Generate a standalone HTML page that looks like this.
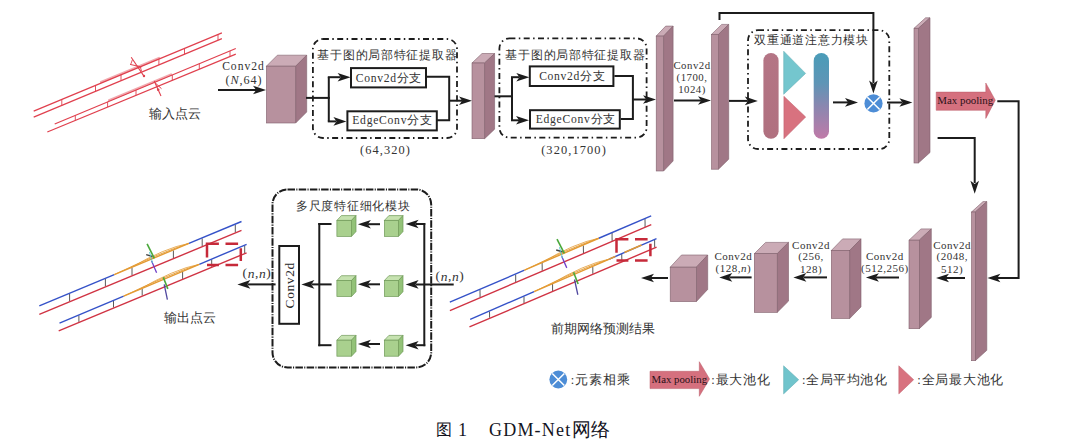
<!DOCTYPE html>
<html><head><meta charset="utf-8"><style>
html,body{margin:0;padding:0;background:#fff;}
body{width:1083px;height:445px;overflow:hidden;font-family:"Liberation Serif", serif;}
svg{display:block;}
</style></head><body>
<svg width="1083" height="445" viewBox="0 0 1083 445">
<rect width="1083" height="445" fill="#fff"/>
<line x1="33.7" y1="111.1" x2="221.9" y2="32.9" stroke="#e0404e" stroke-width="1.2" />
<line x1="33.7" y1="117.1" x2="221.9" y2="38.6" stroke="#e0404e" stroke-width="1.2" />
<line x1="54.7" y1="124.0" x2="235.8" y2="48.5" stroke="#e0404e" stroke-width="1.2" />
<line x1="47.3" y1="132.0" x2="235.8" y2="54.1" stroke="#e0404e" stroke-width="1.2" />
<line x1="61.8" y1="99.4" x2="61.8" y2="105.4" stroke="#e0404e" stroke-width="0.9" />
<line x1="95.5" y1="85.4" x2="95.5" y2="91.3" stroke="#e0404e" stroke-width="0.9" />
<line x1="121.0" y1="74.8" x2="121.0" y2="80.7" stroke="#e0404e" stroke-width="0.9" />
<line x1="158.9" y1="59.1" x2="158.9" y2="64.9" stroke="#e0404e" stroke-width="0.9" />
<line x1="184.5" y1="48.4" x2="184.5" y2="54.2" stroke="#e0404e" stroke-width="0.9" />
<line x1="218.0" y1="34.5" x2="218.0" y2="40.2" stroke="#e0404e" stroke-width="0.9" />
<line x1="75.3" y1="115.4" x2="75.3" y2="120.4" stroke="#e0404e" stroke-width="0.9" />
<line x1="107.6" y1="101.9" x2="107.6" y2="107.1" stroke="#e0404e" stroke-width="0.9" />
<line x1="136.0" y1="90.1" x2="136.0" y2="95.3" stroke="#e0404e" stroke-width="0.9" />
<line x1="172.3" y1="75.0" x2="172.3" y2="80.3" stroke="#e0404e" stroke-width="0.9" />
<line x1="199.3" y1="63.7" x2="199.3" y2="69.2" stroke="#e0404e" stroke-width="0.9" />
<line x1="230.0" y1="50.9" x2="230.0" y2="56.5" stroke="#e0404e" stroke-width="0.9" />
<path d="M101.0,82.0 L159.0,57.9" stroke="#e0404e" stroke-width="2.2" stroke-opacity="0.45" fill="none" stroke-linecap="round"/>
<path d="M109.0,100.3 L171.0,74.4" stroke="#e0404e" stroke-width="2.2" stroke-opacity="0.45" fill="none" stroke-linecap="round"/>
<line x1="131.2" y1="57.3" x2="144.1" y2="76.4" stroke="#e0404e" stroke-width="1.1" />
<line x1="130.1" y1="64.4" x2="141.5" y2="67.0" stroke="#e0404e" stroke-width="1.0" />
<line x1="132.5" y1="59.5" x2="130.6" y2="64.6" stroke="#e0404e" stroke-width="0.9" />
<line x1="140.0" y1="66.0" x2="141.5" y2="71.0" stroke="#e0404e" stroke-width="0.9" />
<circle cx="144" cy="76" r="1.2" fill="#e0404e"/>
<line x1="154.2" y1="80.9" x2="161.0" y2="96.0" stroke="#e0404e" stroke-width="1.1" />
<line x1="154.8" y1="82.5" x2="161.5" y2="88.7" stroke="#e0404e" stroke-width="1.0" />
<circle cx="158.2" cy="89.8" r="1.3" fill="#e0404e"/>
<text x="174.5" y="114" font-size="12.8" text-anchor="middle" font-family="'Liberation Serif', serif" fill="#333" dominant-baseline="central" >输入点云</text>
<text x="243.5" y="66.8" font-size="11.6" text-anchor="middle" font-family="'Liberation Serif', serif" fill="#333" dominant-baseline="central" letter-spacing="1.0">Conv2d</text>
<text x="244" y="80.3" font-size="12.2" text-anchor="middle" font-family="'Liberation Serif', serif" fill="#333" dominant-baseline="central" letter-spacing="0.9">(<tspan font-style="italic">N</tspan>,64)</text>
<line x1="218" y1="90" x2="256" y2="90" stroke="#1c1c1c" stroke-width="2" />
<polygon points="266.00,90.00 253.00,85.70 256.20,90.00 253.00,94.30" fill="#1c1c1c"/>
<polygon points="266.4,66.2 277.4,55.2 306.7,55.2 295.7,66.2" fill="#cbabb6" stroke="#80606c" stroke-width="0.6"/>
<polygon points="295.7,66.2 306.7,55.2 306.7,112 295.7,123" fill="#a07786" stroke="#80606c" stroke-width="0.6"/>
<rect x="266.4" y="66.2" width="29.30000000000001" height="56.8" fill="#b7919e" stroke="#80606c" stroke-width="0.6"/>
<rect x="312.9" y="39" width="144.10000000000002" height="99" rx="10" ry="10" fill="none" stroke="#1c1c1c" stroke-width="1.8" stroke-dasharray="6 3.4 1.5 3.4"/>
<text x="317.3" y="55" font-size="12" text-anchor="start" font-family="'Liberation Serif', serif" fill="#333" dominant-baseline="central" letter-spacing="0.74">基于图的局部特征提取器</text>
<line x1="306" y1="97.9" x2="329.8" y2="97.9" stroke="#1c1c1c" stroke-width="2" />
<polyline points="328.8,121.4 328.8,77.2" fill="none" stroke="#1c1c1c" stroke-width="2" stroke-linejoin="miter"/>
<line x1="327.8" y1="77.2" x2="340.6" y2="77.2" stroke="#1c1c1c" stroke-width="2" />
<polygon points="350.60,77.20 337.60,72.90 340.80,77.20 337.60,81.50" fill="#1c1c1c"/>
<line x1="327.8" y1="121.4" x2="336.4" y2="121.4" stroke="#1c1c1c" stroke-width="2" />
<polygon points="346.40,121.40 333.40,117.10 336.60,121.40 333.40,125.70" fill="#1c1c1c"/>
<rect x="351.0" y="68.1" width="75" height="19.30000000000001" fill="#fff" stroke="#1c1c1c" stroke-width="2"/>
<text x="389" y="78" font-size="11.6" text-anchor="middle" font-family="'Liberation Serif', serif" fill="#333" dominant-baseline="central" letter-spacing="0.7">Conv2d分支</text>
<rect x="347.4" y="111.3" width="89.40000000000003" height="19.10000000000001" fill="#fff" stroke="#1c1c1c" stroke-width="2"/>
<text x="392.5" y="120.8" font-size="11.6" text-anchor="middle" font-family="'Liberation Serif', serif" fill="#333" dominant-baseline="central" letter-spacing="0.75">EdgeConv分支</text>
<polyline points="426.4,76.7 449.2,76.7 449.2,120.3 436.6,120.3" fill="none" stroke="#1c1c1c" stroke-width="2" stroke-linejoin="miter"/>
<line x1="449.2" y1="100.7" x2="462" y2="100.7" stroke="#1c1c1c" stroke-width="2" />
<polygon points="472.00,100.70 459.00,96.40 462.20,100.70 459.00,105.00" fill="#1c1c1c"/>
<text x="385.5" y="150.3" font-size="12.4" text-anchor="middle" font-family="'Liberation Serif', serif" fill="#333" dominant-baseline="central" letter-spacing="1.1">(64,320)</text>
<polygon points="472,63 482,53.5 494.6,53.5 484.6,63" fill="#cbabb6" stroke="#80606c" stroke-width="0.6"/>
<polygon points="484.6,63 494.6,53.5 494.6,129.2 484.6,138.7" fill="#a07786" stroke="#80606c" stroke-width="0.6"/>
<rect x="472" y="63" width="12.600000000000023" height="75.69999999999999" fill="#b7919e" stroke="#80606c" stroke-width="0.6"/>
<rect x="499.4" y="38.4" width="147.20000000000005" height="99.19999999999999" rx="10" ry="10" fill="none" stroke="#1c1c1c" stroke-width="1.8" stroke-dasharray="6 3.4 1.5 3.4"/>
<text x="505.3" y="55" font-size="12" text-anchor="start" font-family="'Liberation Serif', serif" fill="#333" dominant-baseline="central" letter-spacing="0.74">基于图的局部特征提取器</text>
<line x1="494.5" y1="96.3" x2="513" y2="96.3" stroke="#1c1c1c" stroke-width="2" />
<polyline points="512,120.3 512,77.2" fill="none" stroke="#1c1c1c" stroke-width="2" stroke-linejoin="miter"/>
<line x1="511" y1="77.2" x2="519.3" y2="77.2" stroke="#1c1c1c" stroke-width="2" />
<polygon points="529.30,77.20 516.30,72.90 519.50,77.20 516.30,81.50" fill="#1c1c1c"/>
<line x1="511" y1="120.3" x2="519" y2="120.3" stroke="#1c1c1c" stroke-width="2" />
<polygon points="529.00,120.30 516.00,116.00 519.20,120.30 516.00,124.60" fill="#1c1c1c"/>
<rect x="529.8" y="66.4" width="83.60000000000002" height="19.599999999999994" fill="#fff" stroke="#1c1c1c" stroke-width="2"/>
<text x="572.3" y="76" font-size="11.6" text-anchor="middle" font-family="'Liberation Serif', serif" fill="#333" dominant-baseline="central" letter-spacing="0.7">Conv2d分支</text>
<rect x="530.0" y="110.2" width="89.79999999999995" height="18.39999999999999" fill="#fff" stroke="#1c1c1c" stroke-width="2"/>
<text x="575.9" y="119.5" font-size="11.6" text-anchor="middle" font-family="'Liberation Serif', serif" fill="#333" dominant-baseline="central" letter-spacing="0.75">EdgeConv分支</text>
<polyline points="614.4,76 632.9,76 632.9,119 620.8,119" fill="none" stroke="#1c1c1c" stroke-width="2" stroke-linejoin="miter"/>
<line x1="632.9" y1="99.5" x2="646" y2="99.5" stroke="#1c1c1c" stroke-width="2" />
<polygon points="656.00,99.50 643.00,95.20 646.20,99.50 643.00,103.80" fill="#1c1c1c"/>
<text x="574" y="150.3" font-size="12.4" text-anchor="middle" font-family="'Liberation Serif', serif" fill="#333" dominant-baseline="central" letter-spacing="1.1">(320,1700)</text>
<polygon points="656.2,36.1 665.7,26.1 673.1,26.1 663.6,36.1" fill="#cbabb6" stroke="#80606c" stroke-width="0.6"/>
<polygon points="663.6,36.1 673.1,26.1 673.1,161 663.6,171" fill="#a07786" stroke="#80606c" stroke-width="0.6"/>
<rect x="656.2" y="36.1" width="7.399999999999977" height="134.9" fill="#b7919e" stroke="#80606c" stroke-width="0.6"/>
<text x="692" y="65.1" font-size="10.8" text-anchor="middle" font-family="'Liberation Serif', serif" fill="#333" dominant-baseline="central" letter-spacing="0.5">Conv2d</text>
<text x="692" y="77" font-size="10.8" text-anchor="middle" font-family="'Liberation Serif', serif" fill="#333" dominant-baseline="central" letter-spacing="0.5">(1700,</text>
<text x="692" y="88.7" font-size="10.8" text-anchor="middle" font-family="'Liberation Serif', serif" fill="#333" dominant-baseline="central" letter-spacing="0.5">1024)</text>
<line x1="674" y1="100.5" x2="701" y2="100.5" stroke="#1c1c1c" stroke-width="2" />
<polygon points="711.00,100.50 698.00,96.20 701.20,100.50 698.00,104.80" fill="#1c1c1c"/>
<polygon points="711.5,34.4 721.7,24.4 728.7,24.4 718.5,34.4" fill="#cbabb6" stroke="#80606c" stroke-width="0.6"/>
<polygon points="718.5,34.4 728.7,24.4 728.7,159.2 718.5,169.2" fill="#a07786" stroke="#80606c" stroke-width="0.6"/>
<rect x="711.5" y="34.4" width="7.0" height="134.79999999999998" fill="#b7919e" stroke="#80606c" stroke-width="0.6"/>
<polyline points="719.5,20 719.5,12.9 873.4,12.9 873.4,83" fill="none" stroke="#1c1c1c" stroke-width="2" stroke-linejoin="miter"/>
<polygon points="873.40,93.50 869.10,80.50 873.40,83.70 877.70,80.50" fill="#1c1c1c"/>
<line x1="729" y1="100.9" x2="747.8" y2="100.9" stroke="#1c1c1c" stroke-width="2" />
<polygon points="757.80,100.90 744.80,96.60 748.00,100.90 744.80,105.20" fill="#1c1c1c"/>
<rect x="748" y="30.2" width="141.29999999999995" height="118.8" rx="10" ry="10" fill="none" stroke="#1c1c1c" stroke-width="1.8" stroke-dasharray="6 3.4 1.5 3.4"/>
<text x="754.4" y="39.5" font-size="12" text-anchor="start" font-family="'Liberation Serif', serif" fill="#333" dominant-baseline="central" letter-spacing="0.7">双重通道注意力模块</text>
<defs><linearGradient id="g1" x1="0" y1="0" x2="0" y2="1"><stop offset="0" stop-color="#b47585"/><stop offset="1" stop-color="#b0707f"/></linearGradient><linearGradient id="g2" x1="0" y1="0" x2="0" y2="1"><stop offset="0" stop-color="#4a9cb8"/><stop offset="0.35" stop-color="#5e95b6"/><stop offset="0.62" stop-color="#8a87b0"/><stop offset="1" stop-color="#c07aa8"/></linearGradient></defs>
<rect x="763.4" y="53" width="15.2" height="85.8" rx="7.6" fill="url(#g1)"/>
<polygon points="783.7,51.2 805.6,73.4 783.7,94.3" fill="#74c6ce" stroke="#5aa8b0" stroke-width="0.5"/>
<polygon points="783.9,96.3 805.7,117 783.9,138.8" fill="#d8727f" stroke="#c0606c" stroke-width="0.5"/>
<rect x="813.7" y="53" width="15.3" height="85.8" rx="7.65" fill="url(#g2)"/>
<line x1="833" y1="102.4" x2="848" y2="102.4" stroke="#1c1c1c" stroke-width="2" />
<polygon points="858.00,102.40 845.00,98.10 848.20,102.40 845.00,106.70" fill="#1c1c1c"/>
<circle cx="873.5" cy="103.4" r="9.1" fill="#4d8dd6"/>
<path d="M867.312,97.212 L879.688,109.58800000000001 M879.688,97.212 L867.312,109.58800000000001" stroke="#fff" stroke-width="1.5"/>
<line x1="887" y1="102.5" x2="902.4" y2="102.5" stroke="#1c1c1c" stroke-width="2" />
<polygon points="912.40,102.50 899.40,98.20 902.60,102.50 899.40,106.80" fill="#1c1c1c"/>
<polygon points="914,28.3 925.6,17.8 930.0,17.8 918.4,28.3" fill="#cbabb6" stroke="#80606c" stroke-width="0.6"/>
<polygon points="918.4,28.3 930.0,17.8 930.0,152.5 918.4,163" fill="#a07786" stroke="#80606c" stroke-width="0.6"/>
<rect x="914" y="28.3" width="4.399999999999977" height="134.7" fill="#b7919e" stroke="#80606c" stroke-width="0.6"/>
<polygon points="936.2,92.1 985.8,92.1 985.8,83 995.3,100.2 985.8,118.4 985.8,110.3 936.2,110.3" fill="#d5707e" stroke="#b85866" stroke-width="0.5"/>
<text x="965.25" y="99.8" font-size="10.9" text-anchor="middle" font-family="'Liberation Serif', serif" fill="#2a1018" dominant-baseline="central" >Max pooling</text>
<polyline points="997.3,101.2 1018.6,101.2 1018.6,278 997,278" fill="none" stroke="#1c1c1c" stroke-width="2" stroke-linejoin="miter"/>
<polygon points="987.40,278.00 1000.40,273.70 997.20,278.00 1000.40,282.30" fill="#1c1c1c"/>
<polyline points="937.6,138 974.7,138 974.7,183" fill="none" stroke="#1c1c1c" stroke-width="2" stroke-linejoin="miter"/>
<polygon points="974.70,193.70 970.40,180.70 974.70,183.90 979.00,180.70" fill="#1c1c1c"/>
<polygon points="971.5,212 983.0,201.6 986.8,201.6 975.3,212" fill="#cbabb6" stroke="#80606c" stroke-width="0.6"/>
<polygon points="975.3,212 986.8,201.6 986.8,350.3 975.3,360.7" fill="#a07786" stroke="#80606c" stroke-width="0.6"/>
<rect x="971.5" y="212" width="3.7999999999999545" height="148.7" fill="#b7919e" stroke="#80606c" stroke-width="0.6"/>
<line x1="965" y1="278" x2="946" y2="278" stroke="#1c1c1c" stroke-width="2" />
<polygon points="936.00,278.00 949.00,273.70 945.80,278.00 949.00,282.30" fill="#1c1c1c"/>
<text x="952.2" y="244.8" font-size="11" text-anchor="middle" font-family="'Liberation Serif', serif" fill="#333" dominant-baseline="central" letter-spacing="0.5">Conv2d</text>
<text x="952.2" y="256.4" font-size="11" text-anchor="middle" font-family="'Liberation Serif', serif" fill="#333" dominant-baseline="central" letter-spacing="0.5">(2048,</text>
<text x="952.2" y="268.6" font-size="11" text-anchor="middle" font-family="'Liberation Serif', serif" fill="#333" dominant-baseline="central" letter-spacing="0.5">512)</text>
<polygon points="909,240.2 921,228.89999999999998 931.3,228.89999999999998 919.3,240.2" fill="#cbabb6" stroke="#80606c" stroke-width="0.6"/>
<polygon points="919.3,240.2 931.3,228.89999999999998 931.3,317.4 919.3,328.7" fill="#a07786" stroke="#80606c" stroke-width="0.6"/>
<rect x="909" y="240.2" width="10.299999999999955" height="88.5" fill="#b7919e" stroke="#80606c" stroke-width="0.6"/>
<line x1="899" y1="277.5" x2="875.9" y2="277.5" stroke="#1c1c1c" stroke-width="2" />
<polygon points="865.90,277.50 878.90,273.20 875.70,277.50 878.90,281.80" fill="#1c1c1c"/>
<text x="884.8" y="255.9" font-size="11" text-anchor="middle" font-family="'Liberation Serif', serif" fill="#333" dominant-baseline="central" letter-spacing="0.5">Conv2d</text>
<text x="884.8" y="268" font-size="11" text-anchor="middle" font-family="'Liberation Serif', serif" fill="#333" dominant-baseline="central" letter-spacing="0.5">(512,256)</text>
<polygon points="831.3,250.5 842.5999999999999,238.9 861.0,238.9 849.7,250.5" fill="#cbabb6" stroke="#80606c" stroke-width="0.6"/>
<polygon points="849.7,250.5 861.0,238.9 861.0,306.9 849.7,318.5" fill="#a07786" stroke="#80606c" stroke-width="0.6"/>
<rect x="831.3" y="250.5" width="18.40000000000009" height="68.0" fill="#b7919e" stroke="#80606c" stroke-width="0.6"/>
<line x1="827" y1="277.4" x2="803.4" y2="277.4" stroke="#1c1c1c" stroke-width="2" />
<polygon points="793.40,277.40 806.40,273.10 803.20,277.40 806.40,281.70" fill="#1c1c1c"/>
<text x="811" y="244.8" font-size="11" text-anchor="middle" font-family="'Liberation Serif', serif" fill="#333" dominant-baseline="central" letter-spacing="0.5">Conv2d</text>
<text x="811" y="256.4" font-size="11" text-anchor="middle" font-family="'Liberation Serif', serif" fill="#333" dominant-baseline="central" letter-spacing="0.5">(256,</text>
<text x="811" y="268.5" font-size="11" text-anchor="middle" font-family="'Liberation Serif', serif" fill="#333" dominant-baseline="central" letter-spacing="0.5">128)</text>
<polygon points="754.3,253.7 765.5999999999999,242.39999999999998 788.5,242.39999999999998 777.2,253.7" fill="#cbabb6" stroke="#80606c" stroke-width="0.6"/>
<polygon points="777.2,253.7 788.5,242.39999999999998 788.5,301.09999999999997 777.2,312.4" fill="#a07786" stroke="#80606c" stroke-width="0.6"/>
<rect x="754.3" y="253.7" width="22.90000000000009" height="58.69999999999999" fill="#b7919e" stroke="#80606c" stroke-width="0.6"/>
<line x1="751.6" y1="277.4" x2="729.3" y2="277.4" stroke="#1c1c1c" stroke-width="2" />
<polygon points="719.30,277.40 732.30,273.10 729.10,277.40 732.30,281.70" fill="#1c1c1c"/>
<text x="733.3" y="255.8" font-size="11" text-anchor="middle" font-family="'Liberation Serif', serif" fill="#333" dominant-baseline="central" letter-spacing="0.5">Conv2d</text>
<text x="733.3" y="268" font-size="11" text-anchor="middle" font-family="'Liberation Serif', serif" fill="#333" dominant-baseline="central" letter-spacing="0.5">(128,<tspan font-style="italic">n</tspan>)</text>
<polygon points="670.2,267.2 681.5,255.0 707.6999999999999,255.0 696.4,267.2" fill="#cbabb6" stroke="#80606c" stroke-width="0.6"/>
<polygon points="696.4,267.2 707.6999999999999,255.0 707.6999999999999,289.40000000000003 696.4,301.6" fill="#a07786" stroke="#80606c" stroke-width="0.6"/>
<rect x="670.2" y="267.2" width="26.199999999999932" height="34.400000000000034" fill="#b7919e" stroke="#80606c" stroke-width="0.6"/>
<line x1="668" y1="278" x2="651" y2="278" stroke="#1c1c1c" stroke-width="2" />
<polygon points="641.00,278.00 654.00,273.70 650.80,278.00 654.00,282.30" fill="#1c1c1c"/>
<g transform="translate(410.2,-4.7) rotate(-0.57,143,274)">
<line x1="69.6" y1="293.8" x2="69.6" y2="301.2" stroke="#5a5a5a" stroke-width="1.0" />
<line x1="105.4" y1="278.8" x2="105.4" y2="286.4" stroke="#5a5a5a" stroke-width="1.0" />
<line x1="132.0" y1="267.7" x2="132.0" y2="275.3" stroke="#5a5a5a" stroke-width="1.0" />
<line x1="173.4" y1="250.4" x2="173.4" y2="258.2" stroke="#5a5a5a" stroke-width="1.0" />
<line x1="202.2" y1="238.4" x2="202.2" y2="246.2" stroke="#5a5a5a" stroke-width="1.0" />
<line x1="235.3" y1="224.6" x2="235.3" y2="232.5" stroke="#5a5a5a" stroke-width="1.0" />
<line x1="78.9" y1="315.5" x2="78.9" y2="321.9" stroke="#5a5a5a" stroke-width="1.0" />
<line x1="113.5" y1="300.9" x2="113.5" y2="307.6" stroke="#5a5a5a" stroke-width="1.0" />
<line x1="142.2" y1="288.8" x2="142.2" y2="295.6" stroke="#5a5a5a" stroke-width="1.0" />
<line x1="182.6" y1="271.8" x2="182.6" y2="278.9" stroke="#5a5a5a" stroke-width="1.0" />
<line x1="211.7" y1="259.5" x2="211.7" y2="266.8" stroke="#5a5a5a" stroke-width="1.0" />
<line x1="244.7" y1="245.6" x2="244.7" y2="253.1" stroke="#5a5a5a" stroke-width="1.0" />
<line x1="39.3" y1="305.9" x2="114.3" y2="274.6" stroke="#3552c8" stroke-width="1.4" />
<line x1="114.3" y1="274.6" x2="188.9" y2="243.4" stroke="#e39a32" stroke-width="1.4" />
<line x1="188.9" y1="243.4" x2="241.5" y2="221.5" stroke="#3552c8" stroke-width="1.4" />
<path d="M114.3,274.6 Q159.6,252.9 188.9,243.4" fill="none" stroke="#e39a32" stroke-width="0.9"/>
<path d="M130.5,267.8 Q164.7,247.9 188.9,243.4" fill="none" stroke="#e39a32" stroke-width="0.8"/>
<line x1="59.5" y1="323.2" x2="123.7" y2="296.1" stroke="#3552c8" stroke-width="1.4" />
<line x1="123.7" y1="296.1" x2="199.3" y2="264.3" stroke="#e39a32" stroke-width="1.4" />
<line x1="199.3" y1="264.3" x2="246.6" y2="244.3" stroke="#3552c8" stroke-width="1.4" />
<path d="M123.7,296.1 Q169.5,274.0 199.3,264.3" fill="none" stroke="#e39a32" stroke-width="0.9"/>
<path d="M138.6,289.8 Q174.2,269.2 199.3,264.3" fill="none" stroke="#e39a32" stroke-width="0.8"/>
<line x1="39.3" y1="314.3" x2="241.5" y2="230.4" stroke="#d03343" stroke-width="1.4" />
<line x1="58.7" y1="330.8" x2="246.6" y2="252.8" stroke="#d03343" stroke-width="1.4" />
<line x1="199.3" y1="264.3" x2="205.3" y2="261.7" stroke="#e39a32" stroke-width="1.5" />
<line x1="214.4" y1="257.9" x2="231.6" y2="250.6" stroke="#e39a32" stroke-width="1.5" />
<line x1="146.2" y1="254.7" x2="152.5" y2="256.5" stroke="#444" stroke-width="1.4" />
<line x1="147.1" y1="243.9" x2="154.3" y2="258.3" stroke="#4aa83a" stroke-width="1.6" />
<line x1="151.6" y1="261.0" x2="156.6" y2="272.7" stroke="#7040c8" stroke-width="1.3" />
<line x1="149.5" y1="252.0" x2="152.5" y2="263.0" stroke="#50c8d0" stroke-width="0.9" />
<line x1="163.3" y1="277.2" x2="167.8" y2="288.9" stroke="#4aa83a" stroke-width="1.6" />
<line x1="164.2" y1="284.4" x2="167.4" y2="299.7" stroke="#5048a0" stroke-width="1.3" />
</g>
<path d="M616.5,252.79999999999998 L616.5,239.2 L628.4,239.2 M635.0,239.2 L647.6,239.2 M650.4,243.7 L650.4,256.3 M616.5,260.4 L628.4,260.4 M635.0,260.4 L647.6,260.4" fill="none" stroke="#c62a3a" stroke-width="2.5"/>
<text x="603" y="329.2" font-size="12.5" text-anchor="middle" font-family="'Liberation Serif', serif" fill="#333" dominant-baseline="central" >前期网络预测结果</text>
<rect x="272.5" y="189.4" width="158.7" height="177.99999999999997" rx="15" ry="15" fill="none" stroke="#1c1c1c" stroke-width="2" stroke-dasharray="7.5 1.3 1.1 1.3"/>
<text x="353.3" y="206" font-size="12" text-anchor="middle" font-family="'Liberation Serif', serif" fill="#333" dominant-baseline="central" letter-spacing="0.78">多尺度特征细化模块</text>
<text x="450" y="275.8" font-size="13.5" text-anchor="middle" font-family="'Liberation Serif', serif" fill="#333" dominant-baseline="central" letter-spacing="0.6">(<tspan font-style="italic">n</tspan>,<tspan font-style="italic">n</tspan>)</text>
<line x1="453.7" y1="284.4" x2="415.6" y2="284.4" stroke="#1c1c1c" stroke-width="2" />
<polygon points="405.60,284.40 418.60,280.10 415.40,284.40 418.60,288.70" fill="#1c1c1c"/>
<line x1="424.3" y1="223" x2="424.3" y2="346.2" stroke="#1c1c1c" stroke-width="2" />
<line x1="425.3" y1="224" x2="415.6" y2="224" stroke="#1c1c1c" stroke-width="2" />
<polygon points="405.60,224.00 418.60,219.70 415.40,224.00 418.60,228.30" fill="#1c1c1c"/>
<line x1="425.3" y1="345.2" x2="415.6" y2="345.2" stroke="#1c1c1c" stroke-width="2" />
<polygon points="405.60,345.20 418.60,340.90 415.40,345.20 418.60,349.50" fill="#1c1c1c"/>
<polygon points="336.9,220.4 341.4,215.6 356.0,215.6 351.5,220.4" fill="#c6e2b0" stroke="#6f9a58" stroke-width="0.7"/>
<polygon points="351.5,220.4 356.0,215.6 356.0,231.6 351.5,236.4" fill="#93c278" stroke="#6f9a58" stroke-width="0.7"/>
<rect x="336.9" y="220.4" width="14.600000000000023" height="16.0" fill="#a9d08e" stroke="#6f9a58" stroke-width="0.7"/>
<polygon points="384.4,220.4 388.9,215.6 403.0,215.6 398.5,220.4" fill="#c6e2b0" stroke="#6f9a58" stroke-width="0.7"/>
<polygon points="398.5,220.4 403.0,215.6 403.0,231.6 398.5,236.4" fill="#93c278" stroke="#6f9a58" stroke-width="0.7"/>
<rect x="384.4" y="220.4" width="14.100000000000023" height="16.0" fill="#a9d08e" stroke="#6f9a58" stroke-width="0.7"/>
<line x1="380" y1="224.20000000000002" x2="367.9" y2="224.20000000000002" stroke="#1c1c1c" stroke-width="2" />
<polygon points="357.90,224.20 370.90,219.90 367.70,224.20 370.90,228.50" fill="#1c1c1c"/>
<polygon points="336.9,280.5 341.4,275.7 356.0,275.7 351.5,280.5" fill="#c6e2b0" stroke="#6f9a58" stroke-width="0.7"/>
<polygon points="351.5,280.5 356.0,275.7 356.0,291.7 351.5,296.5" fill="#93c278" stroke="#6f9a58" stroke-width="0.7"/>
<rect x="336.9" y="280.5" width="14.600000000000023" height="16.0" fill="#a9d08e" stroke="#6f9a58" stroke-width="0.7"/>
<polygon points="384.4,280.5 388.9,275.7 403.0,275.7 398.5,280.5" fill="#c6e2b0" stroke="#6f9a58" stroke-width="0.7"/>
<polygon points="398.5,280.5 403.0,275.7 403.0,291.7 398.5,296.5" fill="#93c278" stroke="#6f9a58" stroke-width="0.7"/>
<rect x="384.4" y="280.5" width="14.100000000000023" height="16.0" fill="#a9d08e" stroke="#6f9a58" stroke-width="0.7"/>
<line x1="380" y1="284.3" x2="367.9" y2="284.3" stroke="#1c1c1c" stroke-width="2" />
<polygon points="357.90,284.30 370.90,280.00 367.70,284.30 370.90,288.60" fill="#1c1c1c"/>
<polygon points="336.9,340.2 341.4,335.4 356.0,335.4 351.5,340.2" fill="#c6e2b0" stroke="#6f9a58" stroke-width="0.7"/>
<polygon points="351.5,340.2 356.0,335.4 356.0,351.4 351.5,356.2" fill="#93c278" stroke="#6f9a58" stroke-width="0.7"/>
<rect x="336.9" y="340.2" width="14.600000000000023" height="16.0" fill="#a9d08e" stroke="#6f9a58" stroke-width="0.7"/>
<polygon points="384.4,340.2 388.9,335.4 403.0,335.4 398.5,340.2" fill="#c6e2b0" stroke="#6f9a58" stroke-width="0.7"/>
<polygon points="398.5,340.2 403.0,335.4 403.0,351.4 398.5,356.2" fill="#93c278" stroke="#6f9a58" stroke-width="0.7"/>
<rect x="384.4" y="340.2" width="14.100000000000023" height="16.0" fill="#a9d08e" stroke="#6f9a58" stroke-width="0.7"/>
<line x1="380" y1="344.0" x2="367.9" y2="344.0" stroke="#1c1c1c" stroke-width="2" />
<polygon points="357.90,344.00 370.90,339.70 367.70,344.00 370.90,348.30" fill="#1c1c1c"/>
<line x1="319.3" y1="223" x2="319.3" y2="346.2" stroke="#1c1c1c" stroke-width="2" />
<line x1="318.3" y1="224" x2="331.5" y2="224" stroke="#1c1c1c" stroke-width="2" />
<line x1="318.3" y1="345.2" x2="331.5" y2="345.2" stroke="#1c1c1c" stroke-width="2" />
<line x1="331.6" y1="284.4" x2="311.4" y2="284.4" stroke="#1c1c1c" stroke-width="2" />
<polygon points="301.40,284.40 314.40,280.10 311.20,284.40 314.40,288.70" fill="#1c1c1c"/>
<rect x="279.3" y="246.0" width="19.69999999999999" height="77.80000000000001" fill="#fff" stroke="#1c1c1c" stroke-width="2"/>
<text x="0" y="0" font-size="13.5" text-anchor="middle" font-family="'Liberation Serif', serif" fill="#2a2a2a" dominant-baseline="central" letter-spacing="0.6" transform="translate(289.6,285.3) rotate(-90)">Conv2d</text>
<line x1="275.6" y1="284.4" x2="247.4" y2="284.4" stroke="#1c1c1c" stroke-width="2" />
<polygon points="237.40,284.40 250.40,280.10 247.20,284.40 250.40,288.70" fill="#1c1c1c"/>
<text x="257" y="272.9" font-size="13.5" text-anchor="middle" font-family="'Liberation Serif', serif" fill="#333" dominant-baseline="central" letter-spacing="0.6">(<tspan font-style="italic">n</tspan>,<tspan font-style="italic">n</tspan>)</text>
<g transform="">
<line x1="69.6" y1="293.8" x2="69.6" y2="301.2" stroke="#5a5a5a" stroke-width="1.0" />
<line x1="105.4" y1="278.8" x2="105.4" y2="286.4" stroke="#5a5a5a" stroke-width="1.0" />
<line x1="132.0" y1="267.7" x2="132.0" y2="275.3" stroke="#5a5a5a" stroke-width="1.0" />
<line x1="173.4" y1="250.4" x2="173.4" y2="258.2" stroke="#5a5a5a" stroke-width="1.0" />
<line x1="202.2" y1="238.4" x2="202.2" y2="246.2" stroke="#5a5a5a" stroke-width="1.0" />
<line x1="235.3" y1="224.6" x2="235.3" y2="232.5" stroke="#5a5a5a" stroke-width="1.0" />
<line x1="78.9" y1="315.5" x2="78.9" y2="321.9" stroke="#5a5a5a" stroke-width="1.0" />
<line x1="113.5" y1="300.9" x2="113.5" y2="307.6" stroke="#5a5a5a" stroke-width="1.0" />
<line x1="142.2" y1="288.8" x2="142.2" y2="295.6" stroke="#5a5a5a" stroke-width="1.0" />
<line x1="182.6" y1="271.8" x2="182.6" y2="278.9" stroke="#5a5a5a" stroke-width="1.0" />
<line x1="211.7" y1="259.5" x2="211.7" y2="266.8" stroke="#5a5a5a" stroke-width="1.0" />
<line x1="244.7" y1="245.6" x2="244.7" y2="253.1" stroke="#5a5a5a" stroke-width="1.0" />
<line x1="39.3" y1="305.9" x2="114.3" y2="274.6" stroke="#3552c8" stroke-width="1.4" />
<line x1="114.3" y1="274.6" x2="188.9" y2="243.4" stroke="#e39a32" stroke-width="1.4" />
<line x1="188.9" y1="243.4" x2="241.5" y2="221.5" stroke="#3552c8" stroke-width="1.4" />
<path d="M114.3,274.6 Q159.6,252.9 188.9,243.4" fill="none" stroke="#e39a32" stroke-width="0.9"/>
<path d="M130.5,267.8 Q164.7,247.9 188.9,243.4" fill="none" stroke="#e39a32" stroke-width="0.8"/>
<line x1="59.5" y1="323.2" x2="123.7" y2="296.1" stroke="#3552c8" stroke-width="1.4" />
<line x1="123.7" y1="296.1" x2="199.3" y2="264.3" stroke="#e39a32" stroke-width="1.4" />
<line x1="199.3" y1="264.3" x2="246.6" y2="244.3" stroke="#3552c8" stroke-width="1.4" />
<path d="M123.7,296.1 Q169.5,274.0 199.3,264.3" fill="none" stroke="#e39a32" stroke-width="0.9"/>
<path d="M138.6,289.8 Q174.2,269.2 199.3,264.3" fill="none" stroke="#e39a32" stroke-width="0.8"/>
<line x1="39.3" y1="314.3" x2="241.5" y2="230.4" stroke="#d03343" stroke-width="1.4" />
<line x1="58.7" y1="330.8" x2="246.6" y2="252.8" stroke="#d03343" stroke-width="1.4" />
<line x1="146.2" y1="254.7" x2="152.5" y2="256.5" stroke="#444" stroke-width="1.4" />
<line x1="147.1" y1="243.9" x2="154.3" y2="258.3" stroke="#4aa83a" stroke-width="1.6" />
<line x1="151.6" y1="261.0" x2="156.6" y2="272.7" stroke="#7040c8" stroke-width="1.3" />
<line x1="149.5" y1="252.0" x2="152.5" y2="263.0" stroke="#50c8d0" stroke-width="0.9" />
<line x1="163.3" y1="277.2" x2="167.8" y2="288.9" stroke="#4aa83a" stroke-width="1.6" />
<line x1="164.2" y1="284.4" x2="167.4" y2="299.7" stroke="#5048a0" stroke-width="1.3" />
</g>
<path d="M207,257.40000000000003 L207,243.8 L218.9,243.8 M225.5,243.8 L238.1,243.8 M240.8,248.3 L240.8,260.90000000000003 M207,265 L218.9,265 M225.5,265 L238.1,265" fill="none" stroke="#c62a3a" stroke-width="2.5"/>
<text x="189.7" y="318.2" font-size="12.8" text-anchor="middle" font-family="'Liberation Serif', serif" fill="#333" dominant-baseline="central" >输出点云</text>
<circle cx="558.3" cy="379.5" r="8.9" fill="#4d8dd6"/>
<path d="M552.2479999999999,373.448 L564.352,385.552 M564.352,373.448 L552.2479999999999,385.552" stroke="#fff" stroke-width="1.5"/>
<text x="570.8" y="379.5" font-size="12.5" text-anchor="start" font-family="'Liberation Serif', serif" fill="#333" dominant-baseline="central" letter-spacing="0.9">:元素相乘</text>
<polygon points="650,371.3 699.3,371.3 699.3,361.7 709.6,379 699.3,396.3 699.3,388.6 650,388.6" fill="#d5707e" stroke="#b85866" stroke-width="0.5"/>
<text x="679.3" y="378.6" font-size="10.8" text-anchor="middle" font-family="'Liberation Serif', serif" fill="#2a1018" dominant-baseline="central" >Max pooling</text>
<text x="711.3" y="379.5" font-size="12.5" text-anchor="start" font-family="'Liberation Serif', serif" fill="#333" dominant-baseline="central" letter-spacing="0.8">:最大池化</text>
<polygon points="783.6,365.8 798.7,379.7 783.6,393.9" fill="#70c4cc" stroke="#5aa8b0" stroke-width="0.5"/>
<text x="802" y="379.5" font-size="12.5" text-anchor="start" font-family="'Liberation Serif', serif" fill="#333" dominant-baseline="central" letter-spacing="0.6">:全局平均池化</text>
<polygon points="898.8,365.8 913.7,379.7 898.8,393.9" fill="#d8727f" stroke="#c0606c" stroke-width="0.5"/>
<text x="917.3" y="379.5" font-size="12.5" text-anchor="start" font-family="'Liberation Serif', serif" fill="#333" dominant-baseline="central" letter-spacing="0.75">:全局最大池化</text>
<text x="436" y="429" font-size="15.5" text-anchor="start" font-family="'Liberation Serif', serif" fill="#14141e" dominant-baseline="central" >图</text>
<text x="457.9" y="430.2" font-size="18.2" text-anchor="start" font-family="'Liberation Serif', serif" fill="#14141e" dominant-baseline="central" >1</text>
<text x="489" y="429.5" font-size="18" text-anchor="start" font-family="'Liberation Serif', serif" fill="#14141e" dominant-baseline="central" letter-spacing="1.2">GDM-Net</text>
<text x="572" y="429" font-size="19" text-anchor="start" font-family="'Liberation Serif', serif" fill="#14141e" dominant-baseline="central" >网络</text>
</svg></body></html>
